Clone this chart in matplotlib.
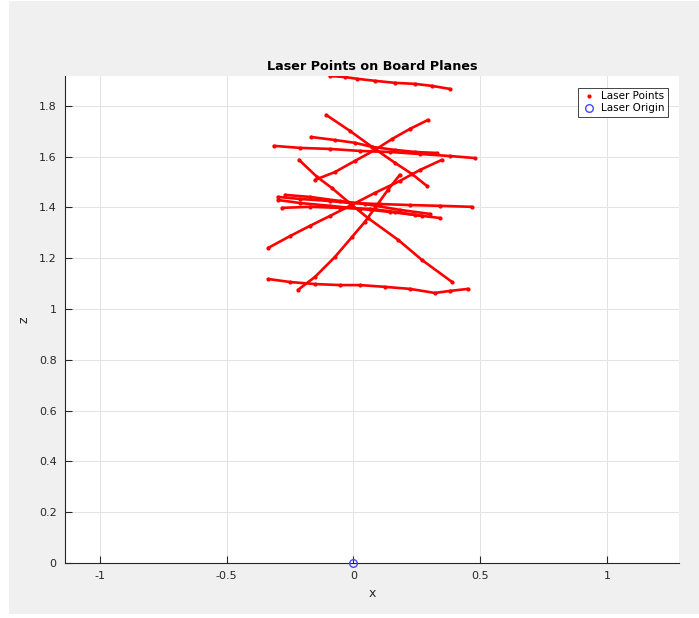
import matplotlib
matplotlib.use("Agg")
import matplotlib.pyplot as plt
from matplotlib.lines import Line2D
from matplotlib.patches import Rectangle

# laser points, one polyline per board plane (x, z)
a_x = [-0.093, -0.034, 0.014, 0.085, 0.164, 0.243, 0.310, 0.381]
a_z = [1.917, 1.913, 1.906, 1.898, 1.890, 1.886, 1.878, 1.866]
b_x = [-0.314, -0.211, -0.093, 0.026, 0.144, 0.262, 0.381, 0.479]
b_z = [1.642, 1.634, 1.630, 1.622, 1.618, 1.610, 1.602, 1.594]
c_x = [-0.168, -0.073, 0.006, 0.073, 0.164, 0.243, 0.329]
c_z = [1.677, 1.665, 1.654, 1.638, 1.626, 1.618, 1.614]
d_x = [-0.108, -0.014, 0.073, 0.164, 0.231, 0.290]
d_z = [1.764, 1.701, 1.638, 1.575, 1.531, 1.484]
e_x = [-0.215, -0.144, -0.085, -0.006, 0.057, 0.176, 0.270, 0.389]
e_z = [1.587, 1.520, 1.476, 1.409, 1.358, 1.272, 1.193, 1.106]
f_x = [-0.152, -0.073, 0.006, 0.085, 0.152, 0.223, 0.294]
f_z = [1.508, 1.539, 1.583, 1.626, 1.669, 1.709, 1.744]
j_x = [-0.337, -0.250, -0.172, -0.093, -0.014, 0.085, 0.183, 0.262, 0.349]
j_z = [1.240, 1.287, 1.327, 1.366, 1.406, 1.457, 1.504, 1.547, 1.587]
k_x = [-0.219, -0.152, -0.073, -0.006, 0.045, 0.085, 0.136, 0.183]
k_z = [1.075, 1.126, 1.205, 1.283, 1.343, 1.398, 1.469, 1.528]
m_x = [-0.337, -0.250, -0.152, -0.053, 0.026, 0.124, 0.223, 0.321, 0.381, 0.452]
m_z = [1.118, 1.106, 1.098, 1.094, 1.094, 1.087, 1.079, 1.063, 1.071, 1.079]
h_x = [-0.298, -0.211, -0.093, -0.014, 0.105, 0.223, 0.341, 0.467]
h_z = [1.441, 1.433, 1.425, 1.417, 1.413, 1.409, 1.406, 1.402]
i1_x = [-0.298, -0.211, -0.093, 0.026, 0.144, 0.243, 0.341]
i1_z = [1.429, 1.417, 1.406, 1.394, 1.382, 1.370, 1.358]
i2_x = [-0.282, -0.172, -0.053, 0.065, 0.164, 0.270]
i2_z = [1.398, 1.402, 1.398, 1.394, 1.382, 1.366]
i3_x = [-0.270, -0.172, -0.053, 0.045, 0.183, 0.302]
i3_z = [1.449, 1.441, 1.425, 1.413, 1.390, 1.374]

planes = [(a_x, a_z), (b_x, b_z), (c_x, c_z), (d_x, d_z), (e_x, e_z),
          (f_x, f_z), (j_x, j_z), (k_x, k_z), (m_x, m_z), (h_x, h_z),
          (i1_x, i1_z), (i2_x, i2_z), (i3_x, i3_z)]

origin_x = [0]
origin_z = [0]

x_ticks = [-1, -0.5, 0, 0.5, 1]
x_labels = ["-1", "-0.5", "0", "0.5", "1"]
z_ticks = [0, 0.2, 0.4, 0.6, 0.8, 1, 1.2, 1.4, 1.6, 1.8]
z_labels = ["0", "0.2", "0.4", "0.6", "0.8", "1", "1.2", "1.4", "1.6", "1.8"]

fig = plt.figure(figsize=(6.99, 6.18), dpi=100, facecolor="white")
fig.patches.append(Rectangle((9 / 699, 4 / 618), 1, 613 / 618, transform=fig.transFigure,
                             facecolor="#f0f0f0", edgecolor="none", zorder=-10))
ax = fig.add_axes([65 / 699, 55 / 618, 614 / 699, 487 / 618])

for px, pz in planes:
    ax.plot(px, pz, "-", color="red", lw=1.9, marker=".", ms=4, solid_capstyle="round")
ax.plot(origin_x, origin_z, "o", mfc="none", mec="#4646ff", ms=5.5, mew=1.0, clip_on=False, zorder=5)

ax.set_xlim(-1.138, 1.284)
ax.set_ylim(0, 1.917)
ax.set_xticks(x_ticks)
ax.set_xticklabels(x_labels)
ax.set_yticks(z_ticks)
ax.set_yticklabels(z_labels)
ax.grid(True, color="#e3e3e3", lw=0.7)
ax.set_axisbelow(True)
for s in ["top", "right"]:
    ax.spines[s].set_visible(False)
for s in ["left", "bottom"]:
    ax.spines[s].set_color("#262626")
    ax.spines[s].set_linewidth(0.8)
ax.tick_params(direction="in", length=5, width=0.8, color="#262626", labelsize=8,
               labelcolor="#262626", pad=6)

ax.set_title("Laser Points on Board Planes", fontsize=9.2, fontweight="bold", pad=4)
ax.set_xlabel("x", fontsize=9, color="#262626", labelpad=4)
ax.set_ylabel("z", fontsize=9, color="#262626", labelpad=6)

handles = [Line2D([], [], ls="none", marker=".", color="red", ms=4),
           Line2D([], [], ls="none", marker="o", mfc="none", mec="#4646ff", ms=5.5)]
leg = ax.legend(handles, ["Laser Points", "Laser Origin"], loc="upper right",
                bbox_to_anchor=(0.982, 0.975), fontsize=7.5, fancybox=False,
                edgecolor="#262626", framealpha=1, borderpad=0.3, handletextpad=0.4,
                labelspacing=0.2, handlelength=1.5, borderaxespad=0)
leg.get_frame().set_linewidth(0.6)

fig.savefig("out.png", dpi=100, facecolor=fig.get_facecolor())
